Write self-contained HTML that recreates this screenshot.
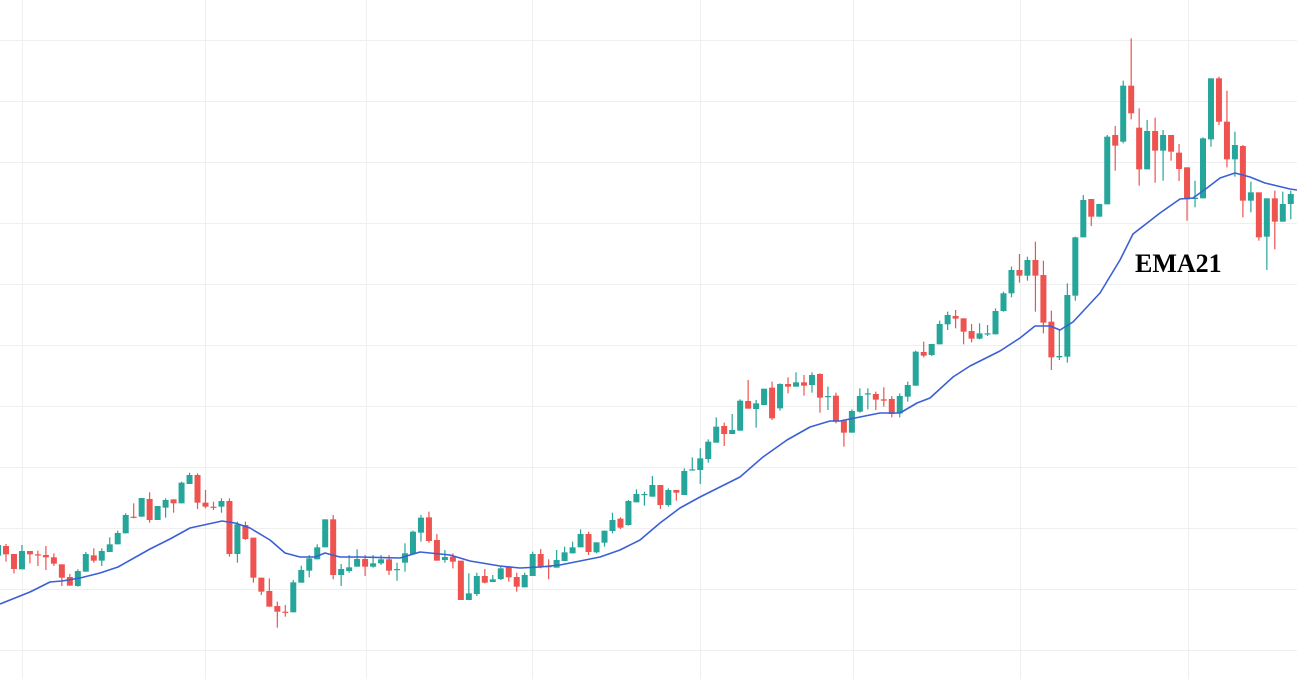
<!DOCTYPE html>
<html><head><meta charset="utf-8"><style>
html,body{margin:0;padding:0;background:#fff;}
svg{display:block;}
</style></head><body>
<svg id="c" width="1297" height="679" viewBox="0 0 1297 679" xmlns="http://www.w3.org/2000/svg">
<rect width="1297" height="679" fill="#fff"/>
<g id="grid" stroke="#efefef" stroke-width="1"></g>
<g id="candles"></g>
<polyline id="ema" fill="none" stroke="#3a5fd6" stroke-width="1.6" stroke-linejoin="round"/>
<text x="1135" y="272" font-family="Liberation Serif, serif" font-weight="bold" font-size="26" fill="#000">EMA21</text>
</svg>
<script>
var NS="http://www.w3.org/2000/svg";
var g=document.getElementById('grid');
[22,205,366,532,700,853,1020,1188].forEach(function(x){var l=document.createElementNS(NS,'line');l.setAttribute('x1',x+.5);l.setAttribute('x2',x+.5);l.setAttribute('y1',0);l.setAttribute('y2',679);g.appendChild(l);});
for(var y=40;y<679;y+=61){var l=document.createElementNS(NS,'line');l.setAttribute('x1',0);l.setAttribute('x2',1297);l.setAttribute('y1',y+.5);l.setAttribute('y2',y+.5);g.appendChild(l);}
// [green(1)/red(0), bodyA, bodyB, wickTop, wickBot] in 3x units
var segs=[
[460,-1,[[1,255,287,250,290],[0,258,283,252,305],[0,282,327,282,340],[1,273,328,255,328],[0,273,283,273,310],[0,283,286,272,318],[0,285,292,258,330],[0,292,311,280,318],[0,313,353,313,378],[0,351,377,342,377],[1,333,378,328,380],[1,282,335,276,335],[0,286,302,265,308],[1,273,302,265,318],[1,253,276,232,276],[1,219,253,212,253],[1,165,220,160,220],[0,170,172,130,175],[1,114,170,114,170],[0,117,180,97,188],[1,138,180,138,180],[1,120,143,115,173],[0,118,130,118,158],[1,68,130,65,130],[1,45,72,38,72],[0,45,128,40,147],[0,128,140,90,145],[0,140,142,125,150],[1,123,140,115,158],[0,123,282,115,290],[1,193,282,185,308],[0,195,237,185,240],[0,233,353,233,368],[0,353,395,353,405],[0,393,440,355,440],[0,438,455,425,503],[0,455,457,435,470],[1,367,457,360,457],[1,330,368,317,368],[1,295,332,285,352],[1,262,298,253,298],[1,178,262,178,262]]],
[460,41,[[0,178,345,165,358],[1,327,345,312,378],[1,322,333,285,338],[1,297,320,268,320],[0,297,320,285,348],[1,310,320,285,323],[1,298,310,285,315],[0,298,332,285,345],[1,327,329,308,362],[1,280,308,250,335],[1,215,282,212,282],[1,173,218,165,245],[0,172,243,155,248],[0,240,302,222,302],[1,291,300,270,308],[0,290,305,280,325],[0,302,420,302,420],[1,400,420,340,420],[1,348,402,338,408],[0,348,368,327,370],[1,358,366,345,366],[1,325,357,318,360],[0,320,352,318,365],[0,351,380,338,395],[1,345,382,338,382],[1,282,348,275,348],[0,282,322,267,325],[0,318,322,298,358],[1,300,323,270,323],[1,277,303,260,303],[1,262,280,245,280],[1,222,262,208,262],[0,222,276,215,285],[1,247,277,247,280],[1,212,248,212,260],[1,180,213,158,220],[0,176,203,172,207],[1,123,195,120,197],[1,102,127,88,127],[1,102,104,95,137]]],
[360,81,[[1,375,410,348,410],[0,375,435,375,447],[1,390,435,385,440],[0,390,398,390,422],[1,333,405,325,405],[1,328,331,292,332],[1,295,330,265,372],[1,245,297,238,308],[1,200,248,172,248],[0,198,222,188,258],[1,210,222,162,222],[1,122,212,118,212],[0,123,146,60,146],[1,130,147,120,203],[1,86,135,86,135],[0,83,175,65,180],[1,72,145,70,152],[0,72,80,52,100],[1,67,80,37,80],[0,67,77,45,107],[1,45,75,37,98],[0,42,113,40,158],[1,108,110,80,150],[0,107,185,98,190],[0,182,218,178,260],[1,153,218,148,218],[1,108,155,85,158],[1,100,102,85,148],[0,102,119,95,150],[0,118,122,82,140],[0,117,162,108,172],[1,108,160,100,172],[1,75,110,65,125]]],
[230,114,[[1,365,467,362,467],[0,366,377,335,382],[1,342,375,342,378],[1,282,343,272,343],[1,255,283,245,300],[0,258,266,240,295],[0,265,305,265,343],[0,303,326,282,337],[1,310,326,280,328],[1,310,312,285,318],[1,243,313,235,313],[1,190,243,185,245],[1,120,190,110,202],[0,120,137,72,158],[1,90,137,80,152],[0,90,137,35,245],[0,135,278,92,310],[0,275,382,242,420],[1,378,382,300,390],[1,195,380,160,398],[1,22,197,20,212]]],
[30,135,[[1,510,622,495,622],[0,507,560,507,588],[1,522,560,522,560],[1,320,523,315,523],[0,315,347,288,422],[1,167,335,152,340],[0,167,250,25,268],[0,293,418,235,467],[1,303,418,270,418],[0,303,362,263,458],[1,315,362,300,452],[0,315,365,315,392],[0,368,417,342,453],[0,412,508,412,572],[1,503,507,452,532],[1,325,505,322,505],[1,145,328,145,350],[0,145,275,140,285],[0,275,388,182,412],[1,345,388,305,440],[0,348,512,345,562],[1,487,512,455,547],[0,487,622,487,632],[1,505,620,505,720],[0,505,575,482,658],[1,522,575,485,575],[1,492,522,482,568]]]
];
var cg=document.getElementById('candles');
segs.forEach(function(s){var base=s[0],i0=s[1];s[2].forEach(function(d,k){
 var i=i0+k,x=6+7.98*i,col=d[0]?'#26a69a':'#ef5350';
 var b1=base+Math.min(d[1],d[2])/3,b2=base+Math.max(d[1],d[2])/3,w1=base+d[3]/3,w2=base+d[4]/3;
 var l=document.createElementNS(NS,'rect');l.setAttribute('x',x-0.6);l.setAttribute('width',1.2);l.setAttribute('y',w1);l.setAttribute('height',Math.max(w2-w1,1));l.setAttribute('fill',col);cg.appendChild(l);
 var r=document.createElementNS(NS,'rect');r.setAttribute('x',x-3);r.setAttribute('width',6);r.setAttribute('y',b1);r.setAttribute('height',Math.max(b2-b1,1.2));r.setAttribute('fill',col);cg.appendChild(r);
});});
var ema=[[0,604],[30,592],[50,582],[62,581],[80,578],[100,573],[118,567],[150,549],[170,539],[190,528],[222,521],[235,523],[250,528],[270,540],[285,553],[300,557],[315,557],[325,553],[340,557],[360,557],[400,558],[420,552],[440,554],[450,555],[470,561],[500,566],[520,568],[540,567],[560,565],[580,561],[600,557],[620,550],[640,540],[660,523],[680,508],[700,497],[720,487],[740,477],[763,457],[787,440],[810,427],[830,421],[840,421],[860,417],[880,413],[900,413],[917,403],[930,398],[953,377],[970,366],[1000,351],[1020,338],[1035,326],[1050,326],[1060,330],[1073,322],[1100,293],[1120,260],[1133,234],[1160,213],[1180,199],[1193,198],[1207,188],[1220,178],[1235,173],[1250,177],[1265,183],[1290,189],[1297,190]];
document.getElementById('ema').setAttribute('points',ema.map(function(p){return p.join(',');}).join(' '));
</script>
</body></html>
